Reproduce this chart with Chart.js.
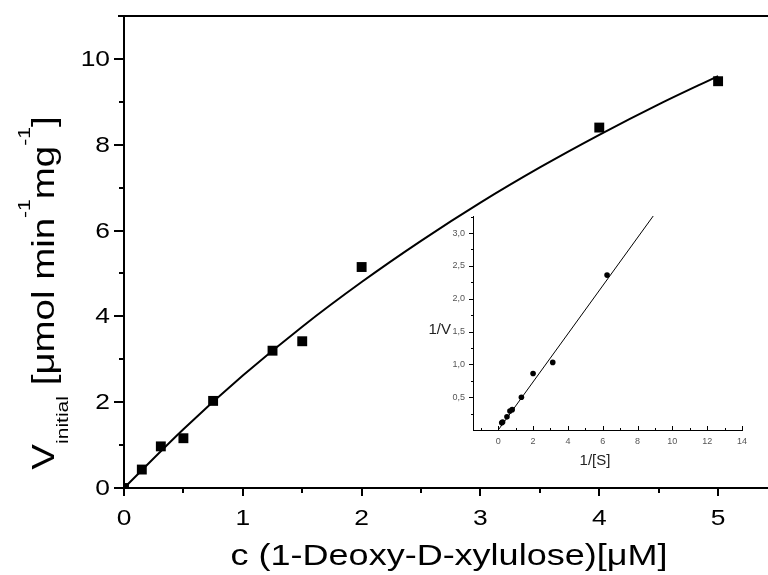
<!DOCTYPE html>
<html>
<head>
<meta charset="utf-8">
<script src="https://cdn.jsdelivr.net/npm/chart.js@4.4.0/dist/chart.umd.min.js"></script>
<style>
  html, body { margin: 0; padding: 0; background: #fff; }
  #wrap { position: relative; width: 768px; height: 575px; }
  #mainChart { position: absolute; left: 0; top: 0; }
  #insetChart { position: absolute; left: 400px; top: 200px; }
</style>
</head>
<body>
<div id="wrap">
  <canvas id="mainChart" width="768" height="575"></canvas>
  <canvas id="insetChart" width="360" height="270"></canvas>
</div>
<script>
// measured initial velocities vs substrate concentration
const conc = [0, 0.15, 0.31, 0.5, 0.75, 1.25, 1.5, 2.0, 4.0, 5.0];
const velocity = [0, 0.43, 0.97, 1.16, 2.03, 3.2, 3.42, 5.15, 8.4, 9.48];

// fitted curve
const fitConc = [0, 0.5, 1, 1.5, 2, 2.5, 3, 3.5, 4, 4.5, 5];
const fitVel = [0, 1.37, 2.62, 3.76, 4.8, 5.76, 6.65, 7.47, 8.23, 8.94, 9.6];

// Lineweaver-Burk inset
const invS = [0.2, 0.25, 0.5, 0.67, 0.8, 1.33, 2.0, 3.13, 6.25];
const invV = [0.11, 0.12, 0.2, 0.29, 0.31, 0.5, 0.86, 1.03, 2.36];
const lbLineX = [0, 8.9];
const lbLineY = [0, 3.26];

// ticks
const xMajor = [0, 1, 2, 3, 4, 5];
const xMinor = [0.5, 1.5, 2.5, 3.5, 4.5];
const yMajor = [0, 2, 4, 6, 8, 10];
const yMinor = [1, 3, 5, 7, 9];
const insetXMajor = [0, 2, 4, 6, 8, 10, 12, 14];
const insetXMinor = [-1, 1, 3, 5, 7, 9, 11, 13];
const insetYMajor = [0.5, 1.0, 1.5, 2.0, 2.5, 3.0];
const insetYMinor = [0.25, 0.75, 1.25, 1.75, 2.25, 2.75, 3.25];

const FONT = '"Liberation Sans", Arial, sans-serif';

function toXY(xs, ys) {
    return xs.map((x, i) => ({ x: x, y: ys[i] }));
}
function setTicks(major, minor) {
    return function (scale) {
        scale.ticks = major.concat(minor).sort((a, b) => a - b).map(v => ({ value: v }));
    };
}

// draws major/minor tick marks on the x and y scales
const tickMarks = {
    id: 'tickMarks',
    afterDraw(chart, args, opts) {
        const ctx = chart.ctx;
        ctx.save();
        ctx.strokeStyle = '#000';
        ctx.lineWidth = opts.width;
        const off = opts.width % 2 ? 0.5 : 0;
        ['x', 'y'].forEach(id => {
            const s = chart.scales[id];
            const o = opts[id];
            s.ticks.forEach(t => {
                const len = o.major.includes(t.value) ? o.majorLen : o.minorLen;
                const p = Math.round(s.getPixelForValue(t.value)) + off;
                ctx.beginPath();
                if (id === 'x') {
                    const y0 = chart.chartArea.bottom;
                    ctx.moveTo(p, y0);
                    ctx.lineTo(p, y0 + o.dir * len);
                } else {
                    const x0 = chart.chartArea.left;
                    ctx.moveTo(x0, p);
                    ctx.lineTo(x0 - o.dir * len, p);
                }
                ctx.stroke();
            });
        });
        ctx.restore();
    }
};

function drawRich(ctx, segs) {
    let total = 0;
    segs.forEach(s => {
        ctx.font = s.size + 'px ' + FONT;
        s.w = ctx.measureText(s.text).width;
        total += s.w;
    });
    let x = -total / 2;
    segs.forEach(s => {
        ctx.font = s.size + 'px ' + FONT;
        ctx.fillText(s.text, x, s.dy || 0);
        x += s.w;
    });
}

// frame line on top, wide tick labels and axis titles of the main chart
const mainDecor = {
    id: 'mainDecor',
    afterDraw(chart) {
        const ctx = chart.ctx;
        const a = chart.chartArea;
        const xs = chart.scales.x;
        const ys = chart.scales.y;
        ctx.save();
        ctx.strokeStyle = '#000';
        ctx.lineWidth = 2;
        ctx.beginPath();
        ctx.moveTo(a.left - 6, Math.round(a.top));
        ctx.lineTo(a.right, Math.round(a.top));
        ctx.stroke();

        ctx.fillStyle = '#000';
        ctx.font = '22px ' + FONT;
        ctx.textAlign = 'center';
        ctx.textBaseline = 'alphabetic';
        xs.ticks.forEach(t => {
            if (!xMajor.includes(t.value)) return;
            ctx.save();
            ctx.translate(xs.getPixelForValue(t.value), a.bottom + 37);
            ctx.scale(1.2, 1);
            ctx.fillText(String(t.value), 0, 0);
            ctx.restore();
        });
        ctx.textAlign = 'right';
        ctx.textBaseline = 'middle';
        ys.ticks.forEach(t => {
            if (!yMajor.includes(t.value)) return;
            ctx.save();
            ctx.translate(a.left - 14, ys.getPixelForValue(t.value) + 1);
            ctx.scale(1.2, 1);
            ctx.fillText(String(t.value), 0, 0);
            ctx.restore();
        });

        ctx.textBaseline = 'alphabetic';
        ctx.textAlign = 'left';
        ctx.save();
        ctx.translate(449, 565);
        ctx.scale(1.2, 1);
        drawRich(ctx, [{ text: 'c (1-Deoxy-D-xylulose)[μM]', size: 30 }]);
        ctx.restore();

        ctx.save();
        ctx.translate(54, 293);
        ctx.rotate(-Math.PI / 2);
        ctx.scale(1.24, 1);
        drawRich(ctx, [
            { text: 'V', size: 31 },
            { text: 'initial', size: 17, dy: 14 },
            { text: ' [μmol min', size: 31 },
            { text: '-1', size: 17, dy: -24 },
            { text: 'mg', size: 31 },
            { text: '-1', size: 17, dy: -24 },
            { text: ']', size: 31 }
        ]);
        ctx.restore();
        ctx.restore();
    }
};

const insetDecor = {
    id: 'insetDecor',
    afterDraw(chart) {
        const ctx = chart.ctx;
        ctx.save();
        ctx.fillStyle = '#222';
        ctx.font = '15px ' + FONT;
        ctx.textAlign = 'right';
        ctx.textBaseline = 'middle';
        ctx.fillText('1/V', 51, 130);
        ctx.textAlign = 'center';
        ctx.fillText('1/[S]', 195, 261);
        ctx.restore();
    }
};

new Chart(document.getElementById('mainChart'), {
    type: 'scatter',
    data: {
        datasets: [{
            type: 'line',
            data: toXY(fitConc, fitVel),
            borderColor: '#000',
            borderWidth: 2,
            pointRadius: 0,
            fill: false,
            cubicInterpolationMode: 'monotone'
        }, {
            data: toXY(conc, velocity),
            pointStyle: 'rect',
            pointRadius: 7,
            pointHoverRadius: 7,
            backgroundColor: '#000',
            borderWidth: 0,
            clip: 0
        }]
    },
    options: {
        responsive: false,
        animation: false,
        devicePixelRatio: 1,
        layout: { autoPadding: false, padding: { top: 16, right: 0, left: 0, bottom: 0 } },
        plugins: {
            legend: { display: false },
            tooltip: { enabled: false },
            tickMarks: {
                width: 2,
                x: { major: xMajor, majorLen: 8, minorLen: 5, dir: 1 },
                y: { major: yMajor, majorLen: 10, minorLen: 5, dir: 1 }
            }
        },
        scales: {
            x: {
                type: 'linear',
                min: 0,
                max: 5.42,
                afterBuildTicks: setTicks(xMajor, xMinor),
                afterFit: s => { s.height = 87; },
                grid: { display: false, drawTicks: false },
                border: { display: true, color: '#000', width: 2 },
                ticks: { display: false }
            },
            y: {
                type: 'linear',
                min: 0,
                max: 11,
                afterBuildTicks: setTicks(yMajor, yMinor),
                afterFit: s => { s.width = 124; },
                grid: { display: false, drawTicks: false },
                border: { display: true, color: '#000', width: 2 },
                ticks: { display: false }
            }
        }
    },
    plugins: [tickMarks, mainDecor]
});

new Chart(document.getElementById('insetChart'), {
    type: 'scatter',
    data: {
        datasets: [{
            type: 'line',
            data: toXY(lbLineX, lbLineY),
            borderColor: '#000',
            borderWidth: 1,
            pointRadius: 0,
            fill: false
        }, {
            data: toXY(invS, invV),
            pointStyle: 'circle',
            pointRadius: 2.8,
            pointHoverRadius: 2.8,
            backgroundColor: '#000',
            borderWidth: 0
        }]
    },
    options: {
        responsive: false,
        animation: false,
        devicePixelRatio: 1,
        layout: { autoPadding: false, padding: { top: 16, right: 18, left: 0, bottom: 0 } },
        plugins: {
            legend: { display: false },
            tooltip: { enabled: false },
            tickMarks: {
                width: 1,
                x: { major: insetXMajor, majorLen: 4, minorLen: 2, dir: -1 },
                y: { major: insetYMajor, majorLen: 4, minorLen: 2, dir: 1 }
            }
        },
        scales: {
            x: {
                type: 'linear',
                min: -1.45,
                max: 14,
                afterBuildTicks: setTicks(insetXMajor, insetXMinor),
                afterFit: s => { s.height = 40; },
                grid: { display: false, drawTicks: false },
                border: { display: true, color: '#000', width: 1 },
                ticks: {
                    autoSkip: false,
                    maxRotation: 0,
                    padding: 6,
                    color: '#555',
                    font: { family: FONT, size: 9 },
                    callback: v => insetXMajor.includes(v) ? String(v) : ''
                }
            },
            y: {
                type: 'linear',
                min: 0,
                max: 3.26,
                afterBuildTicks: setTicks(insetYMajor, insetYMinor),
                afterFit: s => { s.width = 73; },
                grid: { display: false, drawTicks: true, tickLength: 4 },
                border: { display: true, color: '#000', width: 1 },
                ticks: {
                    autoSkip: false,
                    padding: 4,
                    color: '#555',
                    font: { family: FONT, size: 9 },
                    callback: v => insetYMajor.includes(v) ? v.toFixed(1).replace('.', ',') : ''
                }
            }
        }
    },
    plugins: [tickMarks, insetDecor]
});
</script>
</body>
</html>
